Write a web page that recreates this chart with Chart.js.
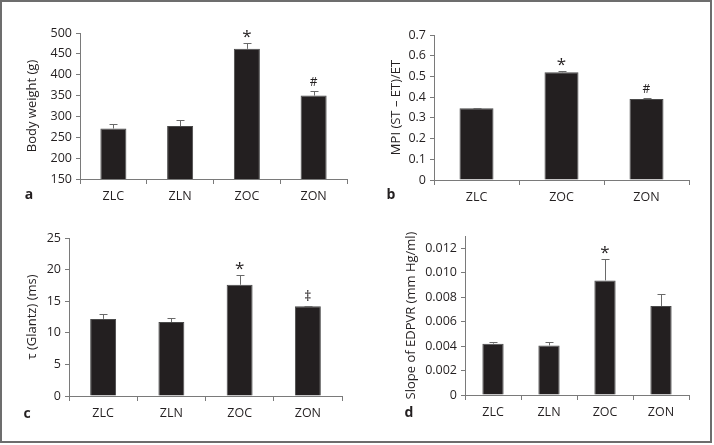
<!DOCTYPE html>
<html>
<head>
<meta charset="utf-8">
<script src="https://cdn.jsdelivr.net/npm/chart.js@4.4.1/dist/chart.umd.min.js"></script>
<style>
  html, body { margin: 0; padding: 0; background: #fff; }
  #wrap { position: relative; width: 714px; height: 445px; }
  #frame { position: absolute; left: 0; top: 0; width: 708px; height: 439px; border: 2px solid #6d6d6d; }
  canvas { position: absolute; }
</style>
</head>
<body>
<div id="wrap">
  <div id="frame"></div>
  <canvas id="chartA" width="357" height="222" style="left:0;top:0"></canvas>
  <canvas id="chartB" width="357" height="222" style="left:357px;top:0"></canvas>
  <canvas id="chartC" width="357" height="223" style="left:0;top:222px"></canvas>
  <canvas id="chartD" width="357" height="223" style="left:357px;top:222px"></canvas>
</div>
<script>
// categorias
var groups4 = ['ZLC', 'ZLN', 'ZOC', 'ZON'];
var groups3 = ['ZLC', 'ZOC', 'ZON'];

// a - peso corporal
var bodyWeight = [271, 277, 462, 350];
var bodyWeightErr = [10, 14, 13, 10];
var bodyWeightMarks = ['', '', '*', '#'];

// b - MPI
var mpi = [0.346, 0.52, 0.391];
var mpiErr = [0.002, 0.005, 0.005];
var mpiMarks = ['', '*', '#'];

// c - tau
var tau = [12.2, 11.7, 17.6, 14.2];
var tauErr = [0.7, 0.6, 1.6, 0.1];
var tauMarks = ['', '', '*', '\u2021'];

// d - EDPVR
var edpvr = [0.0042, 0.00405, 0.00937, 0.00728];
var edpvrErr = [0.0001, 0.00027, 0.00173, 0.00095];
var edpvrMarks = ['', '', '*', ''];

Chart.defaults.font.family = '"Open Sans", sans-serif';
Chart.defaults.font.size = 12;
Chart.defaults.color = '#231f20';

var axisColor = '#7a7a7a';

// barras de erro + marcadores de significancia + letra do painel
var extrasPlugin = {
    id: 'extras',
    afterDatasetsDraw: function(chart, args, opts) {
        var ctx = chart.ctx;
        var meta = chart.getDatasetMeta(0);
        var yScale = chart.scales.y;
        var vals = chart.data.datasets[0].data;
        ctx.save();
        for (var i = 0; i < vals.length; i++) {
            var bar = meta.data[i];
            var yTop = yScale.getPixelForValue(vals[i] + opts.err[i]);
            ctx.strokeStyle = '#6a6a6a';
            ctx.lineWidth = 1;
            ctx.beginPath();
            ctx.moveTo(Math.round(bar.x) + 0.5, bar.y);
            ctx.lineTo(Math.round(bar.x) + 0.5, Math.round(yTop) + 0.5);
            ctx.moveTo(Math.round(bar.x) - 3.5, Math.round(yTop) + 0.5);
            ctx.lineTo(Math.round(bar.x) + 4.5, Math.round(yTop) + 0.5);
            ctx.stroke();

            var m = opts.marks[i];
            if (m) {
                ctx.fillStyle = '#231f20';
                ctx.textAlign = 'center';
                ctx.textBaseline = 'alphabetic';
                if (m === '*') {
                    ctx.font = '17px "Open Sans"';
                    ctx.fillText(m, bar.x, yTop - 1);
                } else if (m === '#') {
                    ctx.font = '12px "Open Sans"';
                    ctx.fillText(m, bar.x, yTop - 5);
                } else {
                    ctx.font = '14px "Open Sans"';
                    ctx.fillText(m, bar.x, yTop - 5);
                }
            }
        }
        ctx.font = 'bold 14px "Open Sans"';
        ctx.fillStyle = '#231f20';
        ctx.textAlign = 'center';
        ctx.textBaseline = 'middle';
        ctx.fillText(opts.letter, opts.letterX, opts.letterY);
        ctx.restore();
    }
};

function makePanel(id, labels, values, errs, marks, p) {
    return new Chart(document.getElementById(id), {
        type: 'bar',
        data: {
            labels: labels,
            datasets: [{
                data: values,
                backgroundColor: '#231f20',
                borderColor: '#4a4a4a',
                borderWidth: 1,
                barPercentage: p.barPct,
                categoryPercentage: 1
            }]
        },
        options: {
            responsive: false,
            animation: false,
            layout: { padding: p.pad },
            plugins: {
                legend: { display: false },
                tooltip: { enabled: false },
                extras: { err: errs, marks: marks, letter: p.letter, letterX: p.letterX, letterY: p.letterY }
            },
            scales: {
                x: {
                    grid: { offset: true, drawOnChartArea: false, tickLength: 5, color: axisColor },
                    border: { color: axisColor },
                    ticks: { padding: 5, font: { size: 12.5 } },
                    afterFit: function(s) { s.height = 30; }
                },
                y: {
                    min: p.min,
                    max: p.max,
                    grid: { drawOnChartArea: false, tickLength: 4, color: axisColor },
                    border: { color: axisColor },
                    ticks: {
                        stepSize: p.step,
                        padding: 4,
                        includeBounds: false,
                        font: { size: 12.5 },
                        callback: function(v) { return v === 0 ? '0' : v.toFixed(p.dec); }
                    },
                    title: { display: true, text: p.title, font: { size: 13 }, padding: { top: 3, bottom: 4 } },
                    afterFit: function(s) { s.width = p.yWidth; }
                }
            }
        },
        plugins: [extrasPlugin]
    });
}

makePanel('chartA', groups4, bodyWeight, bodyWeightErr, bodyWeightMarks, {
    min: 150, max: 500, step: 50, dec: 0, title: 'Body weight (g)',
    pad: { left: 21, top: 33, right: 10, bottom: 13 }, yWidth: 59, barPct: 0.39,
    letter: 'a', letterX: 29, letterY: 195
});

makePanel('chartB', groups3, mpi, mpiErr, mpiMarks, {
    min: 0, max: 0.7, step: 0.1, dec: 1, title: 'MPI (ST \u2013 ET)/ET',
    pad: { left: 28, top: 35, right: 25, bottom: 12 }, yWidth: 49, barPct: 0.4,
    letter: 'b', letterX: 34, letterY: 195
});

makePanel('chartC', groups4, tau, tauErr, tauMarks, {
    min: 0, max: 25, step: 5, dec: 0, title: '\u03c4 (Glantz) (ms)',
    pad: { left: 21, top: 16, right: 15, bottom: 19 }, yWidth: 48, barPct: 0.38,
    letter: 'c', letterX: 27, letterY: 192
});

makePanel('chartD', groups4, edpvr, edpvrErr, edpvrMarks, {
    min: 0, max: 0.013, step: 0.002, dec: 3, title: 'Slope of EDPVR (mm Hg/ml)',
    pad: { left: 43, top: 14, right: 25, bottom: 20 }, yWidth: 65, barPct: 0.38,
    letter: 'd', letterX: 52, letterY: 191
});
</script>
</body>
</html>
